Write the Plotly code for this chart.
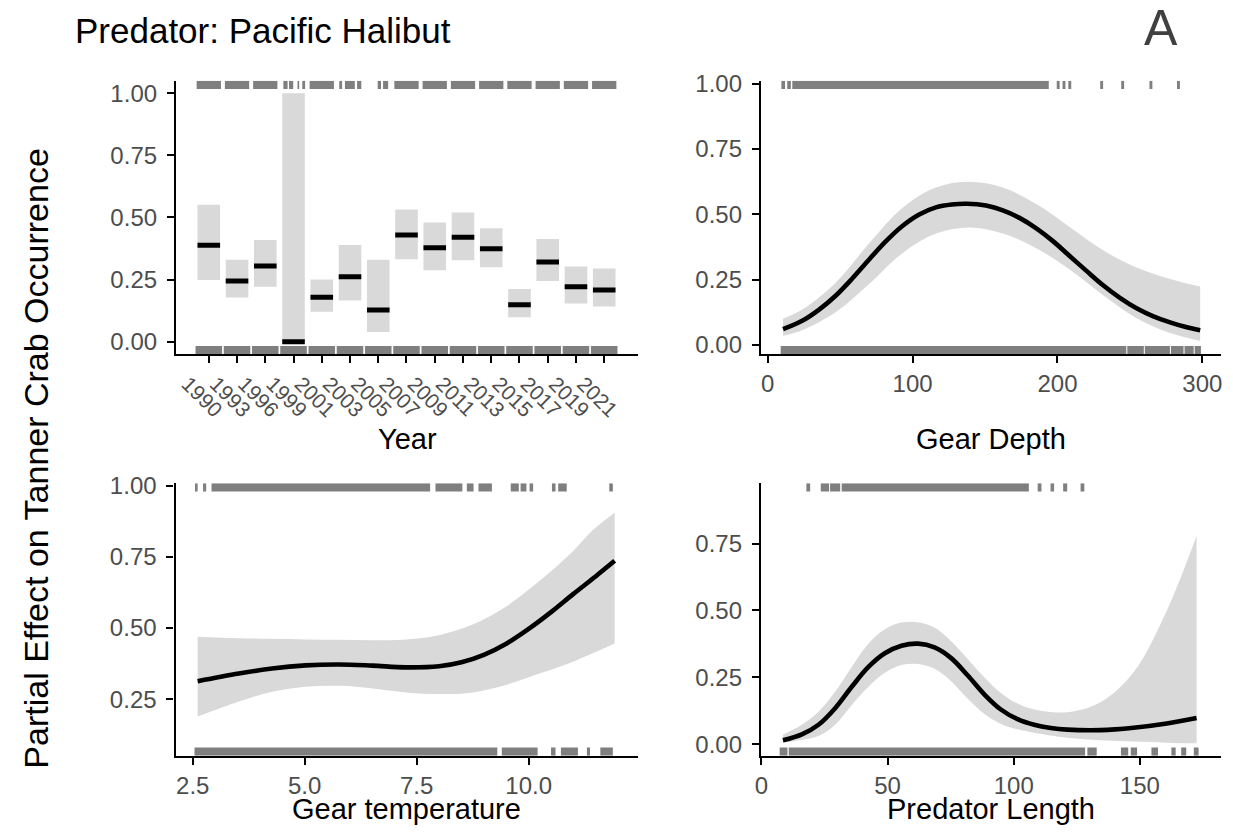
import plotly.graph_objects as go

W, H = 1233, 836
FONT = "Liberation Sans, Arial, Helvetica, sans-serif"
BAND = "#D9D9D9"
RUG = "#7F7F7F"
TICKCOL = "#4D4D4D"

# ---------------- data: Year panel ----------------
years = ["1990", "1993", "1996", "1999", "2001", "2003", "2005", "2007",
         "2009", "2011", "2013", "2015", "2017", "2019", "2021"]
year_pos = [0, 1, 2, 3, 4, 5, 6, 7, 8, 9, 10, 11, 12, 13, 14]
year_mean = [0.388, 0.245, 0.305, 0.000, 0.179, 0.262, 0.128, 0.430,
             0.378, 0.420, 0.374, 0.149, 0.321, 0.221, 0.208]
year_lo = [0.249, 0.178, 0.221, 0.000, 0.121, 0.166, 0.039, 0.332,
           0.288, 0.328, 0.300, 0.099, 0.245, 0.154, 0.142]
year_hi = [0.551, 0.330, 0.409, 1.000, 0.251, 0.389, 0.330, 0.532,
           0.480, 0.520, 0.457, 0.212, 0.413, 0.303, 0.295]
# rug intervals (x extents in category units) for occurrences (top) and absences (bottom)
year_rug_top = [(-0.43, 0.43), (0.57, 1.43), (1.57, 2.43), (2.64, 2.79), (2.84, 2.99),
                (3.14, 3.20), (3.31, 3.41), (3.57, 4.43), (4.62, 4.72), (4.82, 5.17),
                (5.25, 5.40), (5.98, 6.10), (6.17, 6.35), (6.57, 7.43), (7.57, 8.43),
                (8.57, 9.43), (9.57, 10.43), (10.57, 11.43), (11.57, 12.43),
                (12.57, 13.43), (13.57, 14.43)]
year_rug_bot = [(-0.47, 0.47), (0.53, 1.47), (1.53, 2.47), (2.53, 3.47), (3.53, 4.47),
                (4.53, 5.47), (5.53, 6.47), (6.53, 7.47), (7.53, 8.47), (8.53, 9.47),
                (9.53, 10.47), (10.53, 11.47), (11.53, 12.47), (12.53, 13.47),
                (13.53, 14.47)]

# ---------------- data: Gear Depth ----------------
depth_x = [10.6, 23.8, 35.3, 46.9, 58.4, 69.9, 81.5, 93.0, 104.6, 116.1, 127.0, 137.6,
           150.7, 162.3, 173.8, 185.4, 196.9, 208.4, 220.0, 231.5, 243.1, 254.6,
           266.2, 277.7, 288.0, 298.5]
depth_fit = [0.060, 0.092, 0.134, 0.188, 0.254, 0.326, 0.396, 0.455, 0.499, 0.526,
             0.537, 0.540, 0.533, 0.515, 0.486, 0.446, 0.397, 0.340, 0.283, 0.228,
             0.180, 0.140, 0.109, 0.086, 0.069, 0.056]
depth_ci_x = [10.6, 23.8, 46.9, 69.9, 93.0, 116.1, 139.2, 162.3, 185.4, 208.4,
              231.5, 254.6, 277.7, 298.5]
depth_hi = [0.100, 0.135, 0.238, 0.388, 0.524, 0.602, 0.624, 0.602, 0.539, 0.451,
            0.362, 0.296, 0.252, 0.223]
depth_lo = [0.035, 0.056, 0.125, 0.232, 0.351, 0.426, 0.449, 0.426, 0.370, 0.288,
            0.190, 0.102, 0.045, 0.015]
depth_rug_top = [(9.5, 12.0), (13.5, 16.0), (17.0, 194.0), (199.5, 201.5), (203.5, 205.5),
                 (207.5, 209.5), (229.5, 231.5), (244.0, 246.0), (263.5, 265.5),
                 (282.5, 284.5)]
depth_rug_bot = [(9.0, 247.5), (248.2, 259.6), (260.3, 277.6), (278.3, 287.0),
                 (287.7, 294.0), (294.7, 299.0)]

# ---------------- data: Gear temperature ----------------
temp_x = [2.61, 3.53, 4.27, 5.02, 5.77, 6.51, 7.26, 8.00, 8.50, 9.00, 9.50, 10.00,
          10.50, 11.00, 11.50, 11.92]
temp_fit = [0.313, 0.340, 0.358, 0.369, 0.372, 0.368, 0.362, 0.366, 0.380, 0.406,
            0.445, 0.497, 0.556, 0.620, 0.682, 0.736]
temp_ci_x = [2.61, 3.53, 4.27, 5.02, 5.77, 6.51, 7.26, 8.00, 8.75, 9.49, 10.24,
             10.99, 11.44, 11.92]
temp_hi = [0.469, 0.464, 0.462, 0.460, 0.459, 0.457, 0.460, 0.475, 0.512, 0.575,
           0.665, 0.770, 0.845, 0.905]
temp_lo = [0.189, 0.242, 0.276, 0.294, 0.297, 0.288, 0.274, 0.268, 0.274, 0.300,
           0.340, 0.382, 0.412, 0.446]
temp_rug_top = [(2.55, 2.61), (2.73, 2.80), (2.92, 7.80), (7.92, 8.52), (8.62, 8.77),
                (8.88, 9.18), (9.60, 9.78), (9.82, 9.95), (10.02, 10.10), (10.52, 10.60),
                (10.66, 10.85), (11.80, 11.88)]
temp_rug_bot = [(2.54, 9.30), (9.40, 10.20), (10.50, 10.60), (10.72, 11.10),
                (11.30, 11.37), (11.60, 11.88)]

# ---------------- data: Predator Length ----------------
len_x = [8.5, 16.0, 22.6, 29.2, 35.8, 42.3, 48.9, 55.5, 62.1, 68.6, 75.2, 81.8,
         88.4, 94.9, 101.5, 108.1, 114.7, 121.2, 134.4, 147.5, 160.7, 172.5]
len_fit = [0.015, 0.037, 0.073, 0.135, 0.215, 0.288, 0.340, 0.368, 0.376, 0.362,
           0.322, 0.257, 0.186, 0.130, 0.094, 0.073, 0.061, 0.055, 0.053, 0.062,
           0.078, 0.098]
len_ci_x = [8.5, 15.5, 22.6, 29.2, 35.8, 42.3, 48.9, 55.5, 62.1, 68.6, 75.2, 81.8,
            88.4, 94.9, 101.5, 108.1, 121.2, 134.4, 147.5, 160.7, 172.5]
len_hi = [0.037, 0.070, 0.122, 0.196, 0.290, 0.375, 0.430, 0.455, 0.456, 0.436,
          0.385, 0.318, 0.250, 0.192, 0.152, 0.130, 0.120, 0.157, 0.269, 0.500, 0.779]
len_lo = [0.006, 0.016, 0.031, 0.073, 0.147, 0.214, 0.267, 0.296, 0.300, 0.282,
          0.236, 0.170, 0.113, 0.076, 0.056, 0.043, 0.024, 0.015, 0.010, 0.006, 0.004]
len_rug_top = [(17.8, 19.3), (23.5, 26.8), (27.2, 31.2), (31.8, 106.0), (109.5, 111.0),
               (114.6, 116.0), (119.6, 121.2), (126.5, 128.0)]
len_rug_bot = [(7.2, 10.3), (10.8, 128.3), (129.2, 132.9), (142.5, 145.4), (146.4, 148.9),
               (154.6, 157.2), (162.5, 164.2), (166.4, 168.4), (171.4, 173.3)]

# ---------------- layout geometry (pixels) ----------------
TOP = (71, 349.5)
BOT = (481, 758.3)
LEFT = (171, 636)
RIGHT = (759.3, 1222)


def hdom(px):
    return [px[0] / W, px[1] / W]


def vdom(py):
    return [1 - py[1] / H, 1 - py[0] / H]


fig = go.Figure()


def add_band(x, lo, hi, xa, ya):
    fig.add_trace(go.Scatter(x=x, y=lo, mode="lines", line=dict(width=0, shape="spline"),
                             xaxis=xa, yaxis=ya, showlegend=False, hoverinfo="skip"))
    fig.add_trace(go.Scatter(x=x, y=hi, mode="lines", line=dict(width=0, shape="spline"),
                             fill="tonexty", fillcolor=BAND, xaxis=xa, yaxis=ya,
                             showlegend=False, hoverinfo="skip"))


def add_curve(x, y, xa, ya):
    fig.add_trace(go.Scatter(x=x, y=y, mode="lines",
                             line=dict(color="black", width=4.6, shape="spline"),
                             xaxis=xa, yaxis=ya, showlegend=False, hoverinfo="skip"))


def add_rug(intervals, xa, ya, top):
    y0, y1 = (0.97, 1.0) if top else (0.0, 0.03)
    xs, ys = [], []
    for a, b in intervals:
        xs += [a, b, b, a, a, None]
        ys += [y0, y0, y1, y1, y0, None]
    fig.add_trace(go.Scatter(x=xs, y=ys, mode="lines", line=dict(width=0),
                             fill="toself", fillcolor=RUG, xaxis=xa, yaxis=ya,
                             showlegend=False, hoverinfo="skip"))


# Year panel: boxes + mean bars
bx, by, mx, my = [], [], [], []
for p, lo, hi, m in zip(year_pos, year_lo, year_hi, year_mean):
    bx += [p - 0.4, p + 0.4, p + 0.4, p - 0.4, p - 0.4, None]
    by += [lo, lo, hi, hi, lo, None]
    mx += [p - 0.4, p + 0.4, None]
    my += [m, m, None]
fig.add_trace(go.Scatter(x=bx, y=by, mode="lines", line=dict(width=0), fill="toself",
                         fillcolor=BAND, xaxis="x", yaxis="y", showlegend=False,
                         hoverinfo="skip"))
fig.add_trace(go.Scatter(x=mx, y=my, mode="lines", line=dict(color="black", width=5),
                         xaxis="x", yaxis="y", showlegend=False, hoverinfo="skip"))
add_rug(year_rug_top, "x", "y5", True)
add_rug(year_rug_bot, "x", "y5", False)

# Gear depth
add_band(depth_ci_x, depth_lo, depth_hi, "x2", "y2")
add_curve(depth_x, depth_fit, "x2", "y2")
add_rug(depth_rug_top, "x2", "y6", True)
add_rug(depth_rug_bot, "x2", "y6", False)

# Gear temperature
add_band(temp_ci_x, temp_lo, temp_hi, "x3", "y3")
add_curve(temp_x, temp_fit, "x3", "y3")
add_rug(temp_rug_top, "x3", "y7", True)
add_rug(temp_rug_bot, "x3", "y7", False)

# Predator length
add_band(len_ci_x, len_lo, len_hi, "x4", "y4")
add_curve(len_x, len_fit, "x4", "y4")
add_rug(len_rug_top, "x4", "y8", True)
add_rug(len_rug_bot, "x4", "y8", False)

TICKSIZE = 24


def ax(**kw):
    d = dict(showline=True, linecolor="black", linewidth=2.3, ticks="outside", ticklen=7,
             tickwidth=2.3, tickcolor="black", showgrid=False, zeroline=False,
             tickfont=dict(family=FONT, size=TICKSIZE, color=TICKCOL), fixedrange=True)
    d.update(kw)
    return d


def rugax(base, xa):
    return dict(overlaying=base, anchor=xa, range=[0, 1], visible=False, fixedrange=True)


yt = [0, 0.25, 0.5, 0.75, 1.0]
fig.update_layout(
    width=W, height=H, autosize=False, margin=dict(l=0, r=0, t=0, b=0),
    paper_bgcolor="white", plot_bgcolor="white", showlegend=False,
    font=dict(family=FONT),
    xaxis=ax(domain=hdom(LEFT), anchor="y", range=[-1.16, 15.21], tickvals=year_pos,
             ticktext=years, tickangle=45, ticklabelshift=-21, ticklabelstandoff=0,
             tickfont=dict(family=FONT, size=21, color=TICKCOL)),
    yaxis=ax(domain=vdom(TOP), anchor="x", range=[-0.05, 1.05], tickvals=yt,
             tickformat=".2f", ticklabelstandoff=5),
    xaxis2=ax(domain=hdom(RIGHT), anchor="y2", range=[-4.6, 312.9], tickvals=[0, 100, 200, 300]),
    yaxis2=ax(domain=vdom(TOP), anchor="x2", range=[-0.036, 1.011], tickvals=yt,
              tickformat=".2f", ticklabelstandoff=5),
    xaxis3=ax(domain=hdom((170.5, 636)), anchor="y3", range=[2.116, 12.45],
              tickvals=[2.5, 5.0, 7.5, 10.0], tickformat=".1f"),
    yaxis3=ax(domain=vdom(BOT), anchor="x3", range=[0.0517, 1.008], tickvals=yt,
              tickformat=".2f", ticklabelstandoff=5),
    xaxis4=ax(domain=hdom(RIGHT), anchor="y4", range=[-0.2, 182.2], tickvals=[0, 50, 100, 150]),
    yaxis4=ax(domain=vdom(BOT), anchor="x4", range=[-0.0426, 0.975], tickvals=yt,
              tickformat=".2f", ticklabelstandoff=5),
    yaxis5=rugax("y", "x"),
    yaxis6=rugax("y2", "x2"),
    yaxis7=rugax("y3", "x3"),
    yaxis8=rugax("y4", "x4"),
)


def ann(text, xpx, ypx, size, color="black", xanchor="center", angle=0):
    fig.add_annotation(text=text, x=xpx / W, y=1 - ypx / H, xref="paper", yref="paper",
                       showarrow=False, xanchor=xanchor, yanchor="middle", textangle=angle,
                       font=dict(family=FONT, size=size, color=color))


ann("Predator: Pacific Halibut", 67, 20, 35, xanchor="left")
ann("A", 1162, 17, 50, color="#404040")
ann("Partial Effect on Tanner Crab Occurrence", 30, 455, 34, angle=-90)
ann("Year", 403.5, 436, 29)
ann("Gear Depth", 990.6, 436, 29)
ann("Gear temperature", 403, 813, 29)
ann("Predator Length", 990.6, 813, 29)

fig.write_html("out.html")
